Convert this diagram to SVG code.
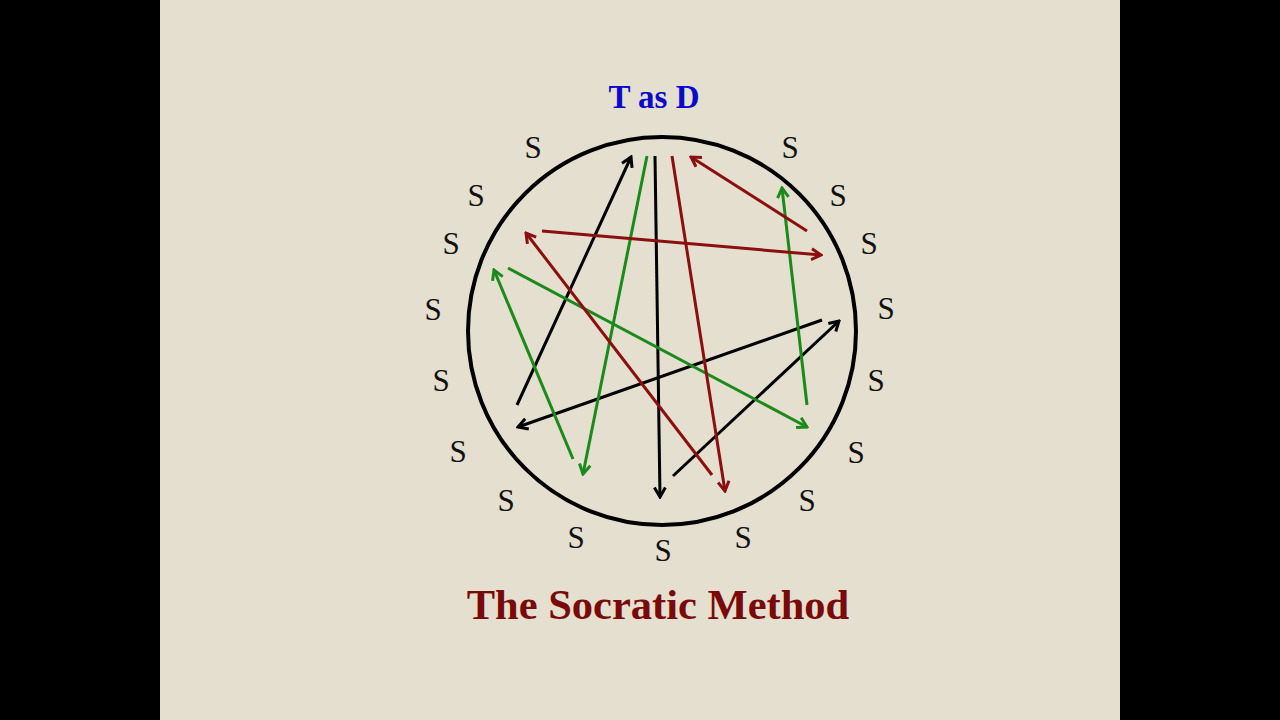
<svg xmlns="http://www.w3.org/2000/svg" width="1280" height="720" viewBox="0 0 1280 720">
<style>
.s{font-family:"Liberation Serif","Times New Roman",serif;font-size:31px;fill:#111;text-anchor:middle}
.k{stroke:#000}
.g{stroke:#1b8a1b}
.r{stroke:#8b0f0f}
line{stroke-width:3;fill:none}
</style>
<defs>
<marker id="ak" viewBox="0 0 14 14" markerWidth="14" markerHeight="14" refX="12" refY="7" orient="auto" markerUnits="userSpaceOnUse"><path d="M2.5,1.5 L12,7 L2.5,12.5" fill="none" stroke="#000" stroke-width="3"/></marker>
<marker id="ag" viewBox="0 0 14 14" markerWidth="14" markerHeight="14" refX="12" refY="7" orient="auto" markerUnits="userSpaceOnUse"><path d="M2.5,1.5 L12,7 L2.5,12.5" fill="none" stroke="#1b8a1b" stroke-width="3"/></marker>
<marker id="ar" viewBox="0 0 14 14" markerWidth="14" markerHeight="14" refX="12" refY="7" orient="auto" markerUnits="userSpaceOnUse"><path d="M2.5,1.5 L12,7 L2.5,12.5" fill="none" stroke="#8b0f0f" stroke-width="3"/></marker>
</defs>
<rect x="0" y="0" width="1280" height="720" fill="#000"/>
<rect x="160" y="0" width="960" height="720" fill="#e4dfce"/>
<g id="teacher"><text x="654" y="108" font-family="Liberation Serif, Times New Roman, serif" font-size="33" font-weight="bold" fill="#0a0acc" text-anchor="middle">T as D</text></g>
<g id="circle"><circle cx="662" cy="331" r="194" fill="none" stroke="#000" stroke-width="4"/></g>
<g id="students">
<text class="s" x="533" y="158">S</text>
<text class="s" x="476" y="206">S</text>
<text class="s" x="451" y="254">S</text>
<text class="s" x="433" y="320">S</text>
<text class="s" x="441" y="391">S</text>
<text class="s" x="458" y="462">S</text>
<text class="s" x="506" y="511">S</text>
<text class="s" x="576" y="548">S</text>
<text class="s" x="663" y="561">S</text>
<text class="s" x="743" y="548">S</text>
<text class="s" x="807" y="511">S</text>
<text class="s" x="856" y="463">S</text>
<text class="s" x="876" y="391">S</text>
<text class="s" x="886" y="319">S</text>
<text class="s" x="869" y="254">S</text>
<text class="s" x="838" y="206">S</text>
<text class="s" x="790" y="158">S</text>
</g>
<g id="connectors">
<line class="k" x1="517" y1="405" x2="631" y2="157" marker-end="url(#ak)"/>
<line class="k" x1="655" y1="156" x2="660" y2="497" marker-end="url(#ak)"/>
<line class="k" x1="822" y1="320" x2="518" y2="427" marker-end="url(#ak)"/>
<line class="k" x1="673" y1="476" x2="839" y2="321" marker-end="url(#ak)"/>
<line class="g" x1="647" y1="156" x2="583" y2="474" marker-end="url(#ag)"/>
<line class="g" x1="573" y1="459" x2="494" y2="270" marker-end="url(#ag)"/>
<line class="g" x1="508" y1="268" x2="807" y2="427" marker-end="url(#ag)"/>
<line class="g" x1="807" y1="405" x2="782" y2="188" marker-end="url(#ag)"/>
<line class="r" x1="672" y1="156" x2="725" y2="491" marker-end="url(#ar)"/>
<line class="r" x1="807" y1="231" x2="691" y2="157" marker-end="url(#ar)"/>
<line class="r" x1="542" y1="231" x2="821" y2="255" marker-end="url(#ar)"/>
<line class="r" x1="712" y1="475" x2="526" y2="233" marker-end="url(#ar)"/>
</g>
<g id="title"><text x="658" y="619" font-family="Liberation Serif, Times New Roman, serif" font-size="42.5" font-weight="bold" fill="#7a0a0a" text-anchor="middle">The Socratic Method</text></g>
</svg>
